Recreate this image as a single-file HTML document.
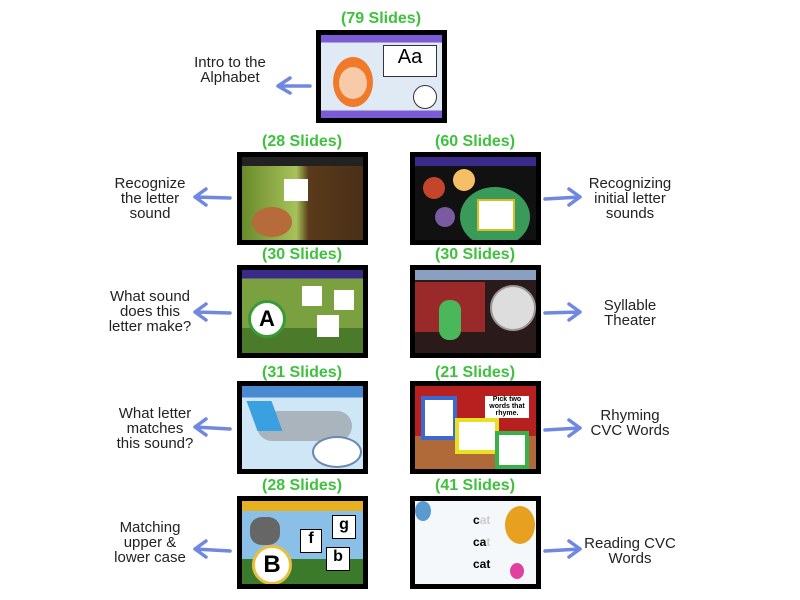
<!DOCTYPE html>
<html><head><meta charset="utf-8"><style>
body{margin:0;width:800px;height:600px;background:#fff;position:relative;overflow:hidden;font-family:"Liberation Sans",sans-serif}
.t{position:absolute;color:#3ec23e;font-weight:bold;font-size:16px;text-align:center;width:140px}
.th{position:absolute;background:#000;box-sizing:border-box;padding:5px;width:131px;height:93px}
.th>div{width:100%;height:100%;position:relative;overflow:hidden}
.l{position:absolute;color:#222;font-size:15px;line-height:15px;text-align:center;width:120px}
svg{position:absolute;left:0;top:0}
</style></head><body>
<div class="t" style="left:311px;top:10px">(79 Slides)</div>
<div class="th" style="left:316px;top:30px"><div style="background:linear-gradient(#7b5bd6 0 9%,#dfeaf5 9% 91%,#7b5bd6 91%)">
<div style="position:absolute;left:62px;top:10px;width:52px;height:30px;background:#fff;border:1px solid #333;font-size:20px;text-align:center">Aa</div>
<div style="position:absolute;left:12px;top:22px;width:40px;height:50px;border-radius:50%;background:#f07a2a"></div>
<div style="position:absolute;left:18px;top:32px;width:28px;height:32px;border-radius:50%;background:#f7caa8"></div>
<div style="position:absolute;left:92px;top:50px;width:22px;height:22px;border-radius:50%;background:#fff;border:1px solid #333"></div>
</div></div>
<div class="l" style="left:170px;top:55px">Intro to the<br>Alphabet</div>

<div class="t" style="left:232px;top:133px">(28 Slides)</div>
<div class="th" style="left:237px;top:152px"><div style="background:linear-gradient(90deg,#6a8a2a,#a7c25a 45%,#5a3a1a 55%,#4a3018)">
<div style="position:absolute;left:0;top:0;width:100%;height:9px;background:#222"></div>
<div style="position:absolute;left:10px;top:50px;width:40px;height:30px;border-radius:50%;background:#b76a3a"></div>
<div style="position:absolute;left:42px;top:22px;width:24px;height:22px;background:#fff"></div>
</div></div>
<div class="t" style="left:405px;top:133px">(60 Slides)</div>
<div class="th" style="left:410px;top:152px"><div style="background:#111">
<div style="position:absolute;left:0;top:0;width:100%;height:9px;background:#3a2a8a"></div>
<div style="position:absolute;left:8px;top:20px;width:22px;height:22px;border-radius:50%;background:#c4452a"></div>
<div style="position:absolute;left:38px;top:12px;width:22px;height:22px;border-radius:50%;background:#f5c065"></div>
<div style="position:absolute;left:20px;top:50px;width:20px;height:20px;border-radius:50%;background:#7a5aa0"></div>
<div style="position:absolute;left:45px;top:30px;width:70px;height:60px;border-radius:50%;background:#3a9a5a"></div>
<div style="position:absolute;left:62px;top:42px;width:34px;height:28px;background:#fff;border:2px solid #d4c020"></div>
</div></div>
<div class="l" style="left:90px;top:176px">Recognize<br>the letter<br>sound</div>
<div class="l" style="left:570px;top:176px">Recognizing<br>initial letter<br>sounds</div>

<div class="t" style="left:232px;top:246px">(30 Slides)</div>
<div class="th" style="left:237px;top:265px"><div style="background:linear-gradient(#3a2a8a 0 10%,#7aa040 10% 70%,#4a7a2a 70%)">
<div style="position:absolute;left:6px;top:30px;width:32px;height:32px;border-radius:50%;background:#fff;border:3px solid #3a9a3a;font-weight:bold;font-size:22px;text-align:center;line-height:32px">A</div>
<div style="position:absolute;left:60px;top:16px;width:20px;height:20px;background:#fff"></div>
<div style="position:absolute;left:92px;top:20px;width:20px;height:20px;background:#fff"></div>
<div style="position:absolute;left:75px;top:45px;width:22px;height:22px;background:#fff"></div>
</div></div>
<div class="t" style="left:405px;top:246px">(30 Slides)</div>
<div class="th" style="left:410px;top:265px"><div style="background:#2a1a1a">
<div style="position:absolute;left:0;top:0;width:100%;height:10px;background:#8aa0c0"></div>
<div style="position:absolute;left:0;top:12px;width:70px;height:50px;background:#9a2a2a"></div>
<div style="position:absolute;left:75px;top:15px;width:42px;height:42px;border-radius:50%;background:#ddd;border:2px solid #999"></div>
<div style="position:absolute;left:24px;top:30px;width:22px;height:40px;background:#4ab85a;border-radius:10px"></div>
</div></div>
<div class="l" style="left:90px;top:289px">What sound<br>does this<br>letter make?</div>
<div class="l" style="left:570px;top:298px">Syllable<br>Theater</div>

<div class="t" style="left:232px;top:364px">(31 Slides)</div>
<div class="th" style="left:237px;top:381px"><div style="background:linear-gradient(#4a8ad0 0 14%,#cfe6f6 14%)">
<div style="position:absolute;left:15px;top:25px;width:95px;height:30px;border-radius:20px;background:#aab4bc"></div>
<div style="position:absolute;left:10px;top:15px;width:25px;height:30px;background:#3aa0e0;transform:skew(20deg)"></div>
<div style="position:absolute;left:70px;top:50px;width:46px;height:28px;border-radius:50%;background:#fff;border:2px solid #6a8ab0"></div>
</div></div>
<div class="t" style="left:405px;top:364px">(21 Slides)</div>
<div class="th" style="left:410px;top:381px"><div style="background:linear-gradient(#b82020 0 60%,#b06a3a 60%)">
<div style="position:absolute;left:6px;top:10px;width:28px;height:36px;background:#fff;border:4px solid #3a6ad0"></div>
<div style="position:absolute;left:70px;top:10px;width:44px;height:22px;background:#fff;font-size:7px;font-weight:bold;text-align:center">Pick two words that rhyme.</div>
<div style="position:absolute;left:40px;top:32px;width:36px;height:28px;background:#fff;border:4px solid #e8e020"></div>
<div style="position:absolute;left:80px;top:45px;width:26px;height:30px;background:#fff;border:4px solid #3ab04a"></div>
</div></div>
<div class="l" style="left:95px;top:406px">What letter<br>matches<br>this sound?</div>
<div class="l" style="left:570px;top:408px">Rhyming<br>CVC Words</div>

<div class="t" style="left:232px;top:477px">(28 Slides)</div>
<div class="th" style="left:237px;top:496px"><div style="background:linear-gradient(#e8b020 0 12%,#8ac0e8 12% 70%,#3a7a2a 70%)">
<div style="position:absolute;left:10px;top:44px;width:34px;height:34px;border-radius:50%;background:#fff;border:3px solid #e8c040;font-weight:bold;font-size:24px;text-align:center;line-height:34px">B</div>
<div style="position:absolute;left:8px;top:16px;width:30px;height:28px;border-radius:40%;background:#666"></div>
<div style="position:absolute;left:58px;top:28px;width:20px;height:22px;background:#fff;border:1px solid #000;font-size:16px;font-weight:bold;text-align:center">f</div>
<div style="position:absolute;left:90px;top:14px;width:22px;height:22px;background:#fff;border:1px solid #000;font-size:16px;font-weight:bold;text-align:center">g</div>
<div style="position:absolute;left:84px;top:46px;width:22px;height:22px;background:#fff;border:1px solid #000;font-size:16px;font-weight:bold;text-align:center">b</div>
</div></div>
<div class="t" style="left:405px;top:477px">(41 Slides)</div>
<div class="th" style="left:410px;top:496px"><div style="background:#f4f8fb;font-weight:bold;font-size:12px">
<div style="position:absolute;left:90px;top:5px;width:30px;height:38px;border-radius:50%;background:#e8a020"></div>
<div style="position:absolute;left:0;top:0;width:16px;height:20px;border-radius:50%;background:#5a9ad0"></div>
<div style="position:absolute;left:58px;top:12px">c<span style="color:#ccc">at</span></div>
<div style="position:absolute;left:58px;top:34px">ca<span style="color:#ccc">t</span></div>
<div style="position:absolute;left:58px;top:56px">cat</div>
<div style="position:absolute;left:95px;top:62px;width:14px;height:16px;border-radius:50%;background:#e040a0"></div>
</div></div>
<div class="l" style="left:90px;top:520px">Matching<br>upper &amp;<br>lower case</div>
<div class="l" style="left:570px;top:536px">Reading CVC<br>Words</div>

<svg width="800" height="600" fill="none" stroke="#7088e0" stroke-width="3.5" stroke-linecap="round" stroke-linejoin="round">
<path d="M310 86 L278 86 M290 78 L278 86 L290 93"/>
<path d="M230 198 L195 197 M206 189 L195 197 L206 205"/>
<path d="M545 199 L580 197 M569 189 L580 197 L569 205"/>
<path d="M230 313 L195 312 M206 304 L195 312 L206 320"/>
<path d="M545 313 L580 312 M569 304 L580 312 L569 320"/>
<path d="M230 429 L195 427 M206 419 L195 427 L206 435"/>
<path d="M545 430 L580 428 M569 420 L580 428 L569 436"/>
<path d="M230 551 L195 549 M206 541 L195 549 L206 557"/>
<path d="M545 551 L580 549 M569 541 L580 549 L569 557"/>
</svg>
</body></html>
